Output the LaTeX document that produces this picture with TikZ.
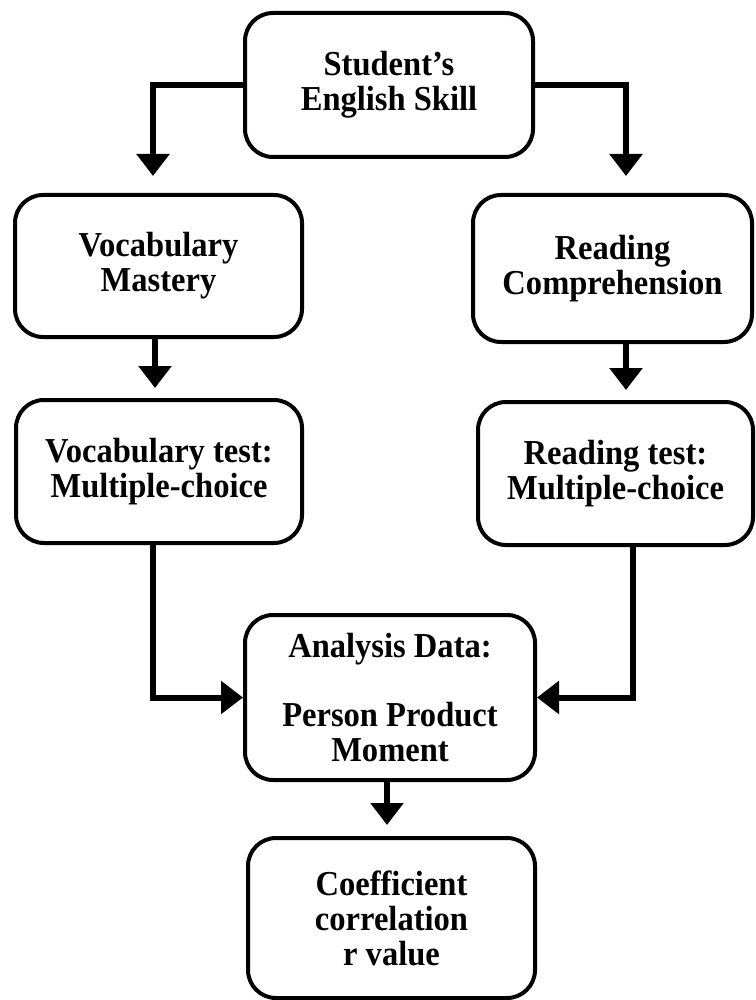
\documentclass[tikz,border=0pt]{standalone}
\usepackage{fontspec}
\setmainfont{Liberation Serif}[FakeStretch=0.93]
\usepackage{tikz}
\usetikzlibrary{arrows.meta}

\begin{document}
\begin{tikzpicture}[x=1pt,y=-1pt,
	box/.style={draw, line width=4pt, rounded corners=28pt, align=center,
		font=\bfseries\fontsize{35}{35}\selectfont, inner sep=0pt},
	arr/.style={line width=6pt, -{Triangle[width=32pt,length=22pt]}}]
			\useasboundingbox (0,0) rectangle (755,1000);
			\fill[white] (0,0) rectangle (755,1000);
			%boxes
			\node[box, minimum width=288pt, minimum height=144pt] (skill) at (389,85) {Student's\\English Skill};
			\node[box, minimum width=287pt, minimum height=142pt] (vocab) at (158.5,266) {Vocabulary\\Mastery};
			\node[box, minimum width=279pt, minimum height=147pt] (read) at (612.5,268.5) {Reading\\Comprehension};
			\node[box, minimum width=286pt, minimum height=143pt] (vtest) at (159,471.5) {Vocabulary test:\\Multiple-choice};
			\node[box, minimum width=275pt, minimum height=143pt] (rtest) at (615.5,473.5) {Reading test:\\Multiple-choice};
			\node[box, minimum width=290pt, minimum height=165pt] (anal) at (390,697.5) {Analysis Data:\\[34pt]Person Product\\Moment};
			\node[box, minimum width=287pt, minimum height=160pt] (coef) at (391.5,918) {Coefficient\\correlation\\r value};
			%arrows
			\draw[arr, shorten >=17pt] (skill.west) -| ([xshift=-5.5pt]vocab.north);
			\draw[arr, shorten >=17pt] (skill.east) -| ([xshift=13.5pt]read.north);
			\draw[arr, shorten >=10pt] ([xshift=-3.5pt]vocab.south) -- ([xshift=-4pt]vtest.north);
			\draw[arr, shorten >=10pt] ([xshift=13.5pt]read.south) -- ([xshift=10.5pt]rtest.north);
			\draw[arr] ([xshift=-6pt]vtest.south) |- (anal.west);
			\draw[arr] ([xshift=17.5pt]rtest.south) |- (anal.east);
			\draw[arr, shorten >=11pt] ([xshift=-3pt]anal.south) -- ([xshift=-4.5pt]coef.north);
			\end{tikzpicture}
\end{document}
